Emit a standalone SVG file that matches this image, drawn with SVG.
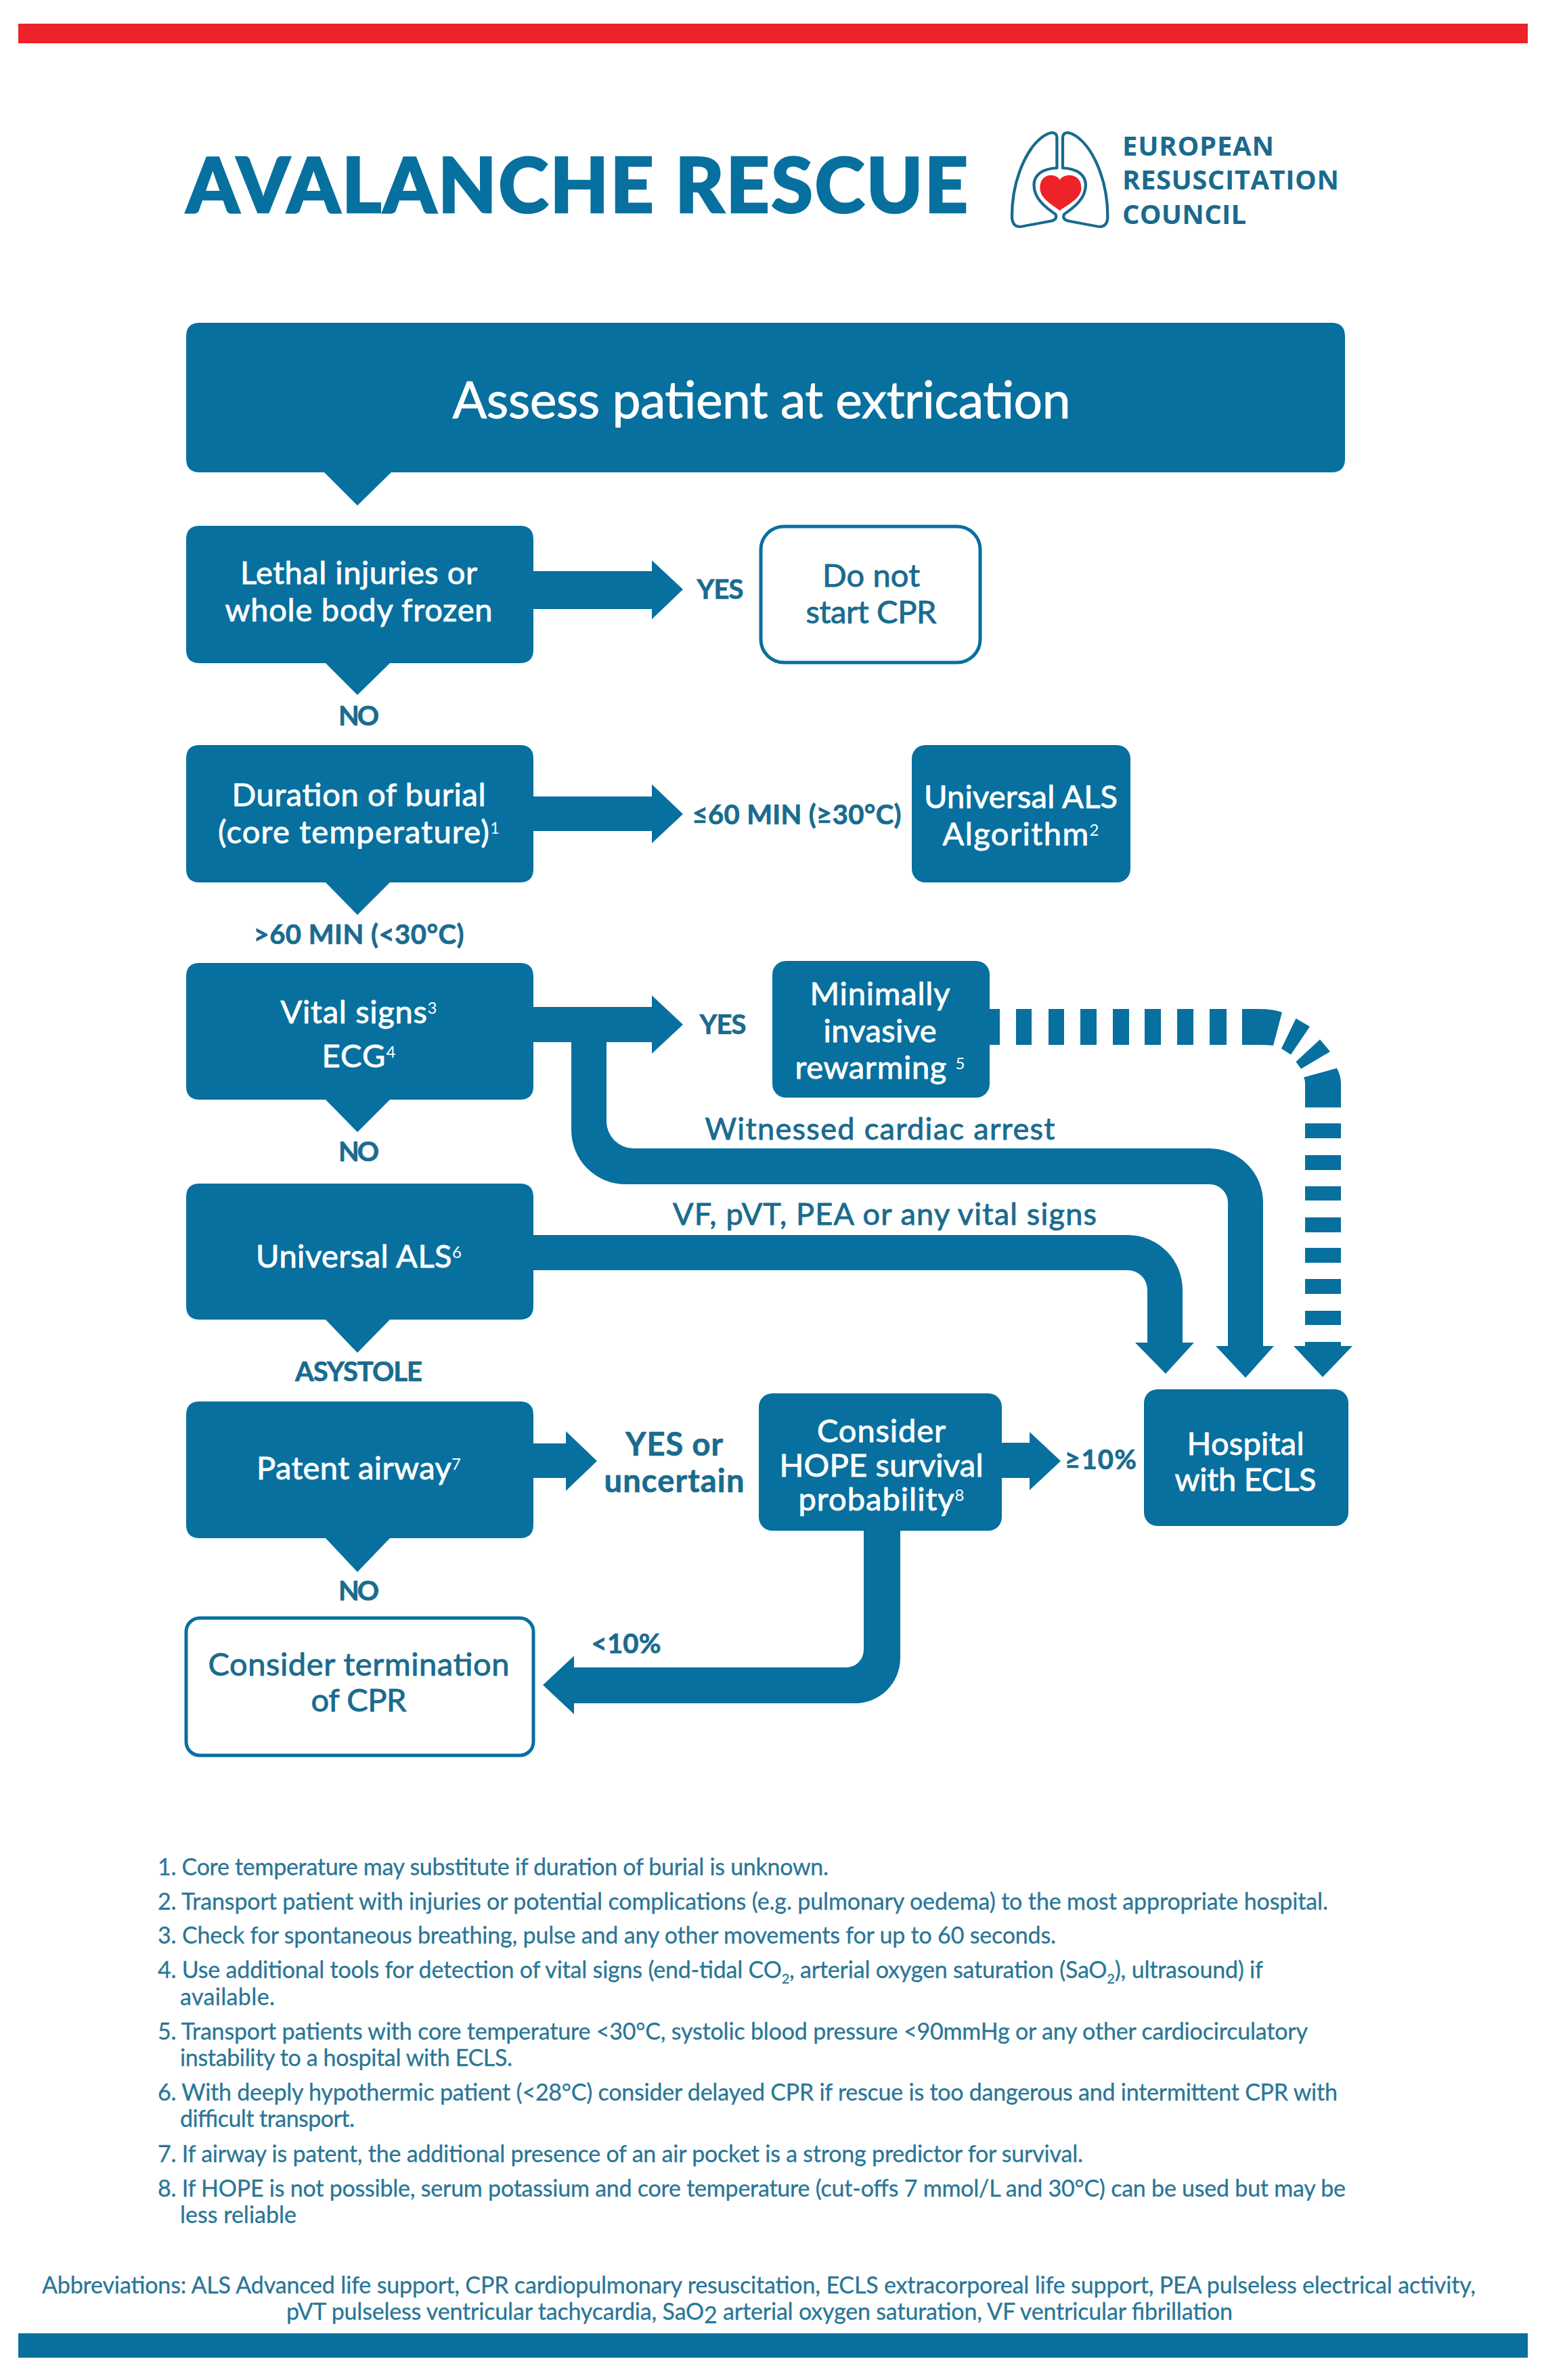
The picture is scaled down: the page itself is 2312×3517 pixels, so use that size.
<svg xmlns="http://www.w3.org/2000/svg" width="2312" height="3517" viewBox="0 0 2312 3517">
<style>
text{font-family:"Lato","Noto Sans","Liberation Sans",sans-serif}
.fill{fill:#07709f}
.n{fill:#07709f}
.o{fill:#fff;stroke:#07709f;stroke-width:5}
.w{fill:#fff;stroke:#fff;stroke-width:.9px;font-size:47px;text-anchor:middle}
.h{font-size:75px}
.t{fill:#1a6b8f;stroke:#1a6b8f;stroke-width:.9px;font-size:47px;text-anchor:middle}
.m{fill:#1a6b8f;stroke:#1a6b8f;stroke-width:.9px;font-size:45px;text-anchor:middle}
.b{fill:#1a6b8f;stroke:#1a6b8f;stroke-width:.7px;font-size:40px;font-weight:700;text-anchor:middle}
.c{font-size:47px}
.f{fill:#2a7696;stroke:#2a7696;stroke-width:.3px;font-size:34px}
.l{fill:#1a6a8e;font-size:40px;font-weight:700;font-family:"Open Sans","Noto Sans",sans-serif}
.s{font-size:24px;stroke-width:0}
.u{font-size:20px}
</style>
<rect width="2312" height="3517" fill="#fff"/>
<rect x="27" y="35" width="2230" height="29" fill="#ee2229"/>
<rect x="27" y="3448" width="2230" height="36" fill="#07709f"/>
<text id="title" x="275" y="314" font-size="112" font-weight="900" fill="#07709f" stroke="#07709f" stroke-width="2.5" textLength="1155">AVALANCHE RESCUE</text>
<g id="logo">
<g transform="translate(1480 170) scale(.357 .333)" fill="none" stroke="#1a6a8e" stroke-width="12" stroke-linejoin="round">
<path d="M228,235 V100 Q228,78 205,78 C120,100 42,270 42,450 Q42,498 80,495 L205,470 Q232,462 222,440 C180,410 133,370 133,310 C133,265 170,237 228,235Z"/>
<path d="M252,235 V100 Q252,78 275,78 C360,100 438,270 438,450 Q438,498 400,495 L275,470 Q248,462 258,440 C300,410 347,370 347,310 C347,265 310,237 252,235Z"/>
<path d="M240,288 C225,258 158,254 158,325 C158,372 215,402 240,424 C265,402 329,372 329,325 C329,254 255,258 240,288Z" fill="#ee2229" stroke="none"/>
</g>
<text class="l" x="1658" y="230" textLength="224">EUROPEAN</text>
<text class="l" x="1658" y="280" textLength="320">RESUSCITATION</text>
<text class="l" x="1658" y="331" textLength="183">COUNCIL</text>
</g>
<g id="connectors" class="fill">
<path id="c-lethal-yes" d="M788,844H963V828L1009,871L963,915V900H788Z"/>
<path id="c-burial-yes" d="M788,1177H963V1159L1009,1203L963,1246V1228H788Z"/>
<path id="c-vital-yes" d="M788,1488H963V1471L1009,1514L963,1557V1540H788Z"/>
<path id="c-witnessed" d="M844,1530H896V1657A40,40 0 0 0 936,1697H1786A80,80 0 0 1 1866,1777V1989H1882L1840,2036L1796,1989H1814V1777A27,27 0 0 0 1787,1750H924A80,80 0 0 1 844,1670Z"/>
<path id="c-vf" d="M788,1825H1666A81,81 0 0 1 1747,1906V1984H1764L1722,2030L1677,1984H1695V1906A29,29 0 0 0 1666,1877H788Z"/>
<g id="c-rewarming">
<path d="M1462,1491H1477V1544H1462Z"/>
<path d="M1501,1491h23v53h-23ZM1549,1491h23v53h-23ZM1596,1491h24v53h-24ZM1644,1491h24v53h-24ZM1691,1491h24v53h-24ZM1739,1491h24v53h-24ZM1787,1491h25v53h-25Z"/>
<path d="M1835,1491H1860Q1880,1491 1894,1496L1881,1545Q1870,1544 1860,1544H1835Z"/>
<path d="M1914.5,1505L1935,1517L1907,1558.5L1893,1549.5Z"/>
<path d="M1950,1536L1965,1554L1922,1579.5L1914.5,1569Z"/>
<path d="M1975,1578.6Q1981,1590 1981,1601V1636.6H1928V1600Q1928,1596 1926,1592Z"/>
<path d="M1928,1660h53v22h-53ZM1928,1707h53v22h-53ZM1928,1753h53v21h-53ZM1928,1799h53v22h-53ZM1928,1844h53v22h-53ZM1928,1890h53v22h-53ZM1928,1937h53v21h-53Z"/>
<path d="M1928,1983H1981V1989H1998L1954,2035L1911,1989H1928Z"/>
</g>
<path id="c-patent-yes" d="M788,2133H836V2115L882,2159L836,2203V2184H788Z"/>
<path id="c-hope-yes" d="M1480,2132H1521V2116L1567,2159L1521,2202V2184H1480Z"/>
<path id="c-hope-no" d="M1276,2255H1330V2450A67,67 0 0 1 1263,2517H848V2533L802,2490L848,2447V2464H1250A26,26 0 0 0 1276,2438Z"/>
</g>
<g id="n-assess">
<path class="n" d="M295,477H1967Q1987,477 1987,497V678Q1987,698 1967,698H578L528,747L479,698H295Q275,698 275,678V497Q275,477 295,477Z"/>
<text class="w h" x="1125" y="618" textLength="913">Assess patient at extrication</text>
</g>
<g id="n-lethal">
<path class="n" d="M295,777H768Q788,777 788,797V960Q788,980 768,980H576L528,1027L481,980H295Q275,980 275,960V797Q275,777 295,777Z"/>
<text class="w" x="530" y="863" textLength="350">Lethal injuries or</text>
<text class="w" x="530" y="918" textLength="395">whole body frozen</text>
</g>
<g id="n-do-not"><rect class="o" x="1124" y="778" width="324" height="201" rx="34"/>
<text class="t" x="1287" y="867" textLength="144">Do not</text>
<text class="t" x="1287" y="921" textLength="193">start CPR</text>
</g>
<g id="n-burial">
<path class="n" d="M295,1101H768Q788,1101 788,1121V1284Q788,1304 768,1304H576L528,1352L481,1304H295Q275,1304 275,1284V1121Q275,1101 295,1101Z"/>
<text class="w" x="530" y="1191" textLength="375">Duration of burial</text>
<text class="w" x="530" y="1246" textLength="416">(core temperature)<tspan class="s" dy="-14">1</tspan></text>
</g>
<g id="n-als-algorithm">
<rect class="n" x="1347" y="1101" width="323" height="203" rx="20"/>
<text class="w" x="1508" y="1194" textLength="286">Universal ALS</text>
<text class="w" x="1508" y="1249" textLength="231">Algorithm<tspan class="s" dy="-14">2</tspan></text>
</g>
<g id="n-vital">
<path class="n" d="M295,1423H768Q788,1423 788,1443V1605Q788,1625 768,1625H576L528,1673L481,1625H295Q275,1625 275,1605V1443Q275,1423 295,1423Z"/>
<text class="w" x="530" y="1512" textLength="231">Vital signs<tspan class="s" dy="-14">3</tspan></text>
<text class="w" x="530" y="1577" textLength="109">ECG<tspan class="s" dy="-14">4</tspan></text>
</g>
<g id="n-rewarming">
<rect class="n" x="1141" y="1420" width="321" height="202" rx="20"/>
<text class="w" x="1300" y="1485" textLength="207">Minimally</text>
<text class="w" x="1300" y="1540" textLength="167">invasive</text>
<text class="w" x="1300" y="1594" textLength="251">rewarming <tspan class="s" dy="-14">5</tspan></text>
</g>
<g id="n-als">
<path class="n" d="M295,1749H768Q788,1749 788,1769V1930Q788,1950 768,1950H576L528,1999L481,1950H295Q275,1950 275,1930V1769Q275,1749 295,1749Z"/>
<text class="w" x="530" y="1873" textLength="304">Universal ALS<tspan class="s" dy="-14">6</tspan></text>
</g>
<g id="n-patent">
<path class="n" d="M295,2071H768Q788,2071 788,2091V2253Q788,2273 768,2273H576L528,2323L481,2273H295Q275,2273 275,2253V2091Q275,2071 295,2071Z"/>
<text class="w" x="530" y="2186" textLength="302">Patent airway<tspan class="s" dy="-14">7</tspan></text>
</g>
<g id="n-hope">
<rect class="n" x="1121" y="2059" width="359" height="203" rx="20"/>
<text class="w" x="1302" y="2131" textLength="190">Consider</text>
<text class="w" x="1302" y="2182" textLength="301">HOPE survival</text>
<text class="w" x="1302" y="2232" textLength="245">probability<tspan class="s" dy="-14">8</tspan></text>
</g>
<g id="n-hospital">
<rect class="n" x="1690" y="2053" width="302" height="202" rx="20"/>
<text class="w" x="1840" y="2150" textLength="173">Hospital</text>
<text class="w" x="1840" y="2203" textLength="209">with ECLS</text>
</g>
<g id="n-termination">
<rect class="o" x="275" y="2391" width="513" height="203" rx="20"/>
<text class="t" x="530" y="2476" textLength="445">Consider termination</text>
<text class="t" x="530" y="2529" textLength="141">of CPR</text>
</g>
<g id="labels">
<text class="b" x="1064" y="885" textLength="69">YES</text>
<text class="b" x="530" y="1072" textLength="60">NO</text>
<text class="b" x="1177" y="1218" textLength="309">≤60 MIN (≥30°C)</text>
<text class="b" x="530" y="1395" textLength="311">&gt;60 MIN (&lt;30°C)</text>
<text class="b" x="1068" y="1528" textLength="69">YES</text>
<text class="b" x="530" y="1716" textLength="60">NO</text>
<text class="m" x="1300" y="1684" textLength="517">Witnessed cardiac arrest</text>
<text class="m" x="1307" y="1810" textLength="626">VF, pVT, PEA or any vital signs</text>
<text class="b" x="530" y="2041" textLength="188">ASYSTOLE</text>
<text class="b c" x="996" y="2151" textLength="144">YES or</text>
<text class="b c" x="996" y="2205" textLength="207">uncertain</text>
<text class="b" x="1626" y="2171" textLength="106">≥10%</text>
<text class="b" x="530" y="2365" textLength="60">NO</text>
<text class="b" x="925" y="2443" textLength="103">&lt;10%</text>
</g>
<g id="footnotes">
<text class="f" x="233" y="2771" textLength="991">1. Core temperature may substitute if duration of burial is unknown.</text>
<text class="f" x="233" y="2822" textLength="1729">2. Transport patient with injuries or potential complications (e.g. pulmonary oedema) to the most appropriate hospital.</text>
<text class="f" x="233" y="2872" textLength="1327">3. Check for spontaneous breathing, pulse and any other movements for up to 60 seconds.</text>
<text class="f" x="233" y="2923" textLength="1633">4. Use additional tools for detection of vital signs (end-tidal CO<tspan class="u" dy="8">2</tspan><tspan dy="-8">, arterial oxygen saturation (SaO</tspan><tspan class="u" dy="8">2</tspan><tspan dy="-8">), ultrasound) if</tspan></text>
<text class="f" x="266" y="2963" textLength="140">available.</text>
<text class="f" x="233" y="3014" textLength="1699">5. Transport patients with core temperature &lt;30°C, systolic blood pressure &lt;90mmHg or any other cardiocirculatory</text>
<text class="f" x="266" y="3053" textLength="491">instability to a hospital with ECLS.</text>
<text class="f" x="233" y="3104" textLength="1743">6. With deeply hypothermic patient (&lt;28°C) consider delayed CPR if rescue is too dangerous and intermittent CPR with</text>
<text class="f" x="266" y="3143" textLength="258">difficult transport.</text>
<text class="f" x="233" y="3195" textLength="1367">7. If airway is patent, the additional presence of an air pocket is a strong predictor for survival.</text>
<text class="f" x="233" y="3246" textLength="1755">8. If HOPE is not possible, serum potassium and core temperature (cut-offs 7 mmol/L and 30°C) can be used but may be</text>
<text class="f" x="266" y="3285" textLength="172">less reliable</text>
<text class="f" x="62" y="3389" textLength="2118">Abbreviations: ALS Advanced life support, CPR cardiopulmonary resuscitation, ECLS extracorporeal life support, PEA pulseless electrical activity,</text>
<text class="f" x="423" y="3428" textLength="1398">pVT pulseless ventricular tachycardia, SaO<tspan dy="5">2</tspan><tspan dy="-5"> arterial oxygen saturation, VF ventricular fibrillation</tspan></text>
</g>
</svg>
